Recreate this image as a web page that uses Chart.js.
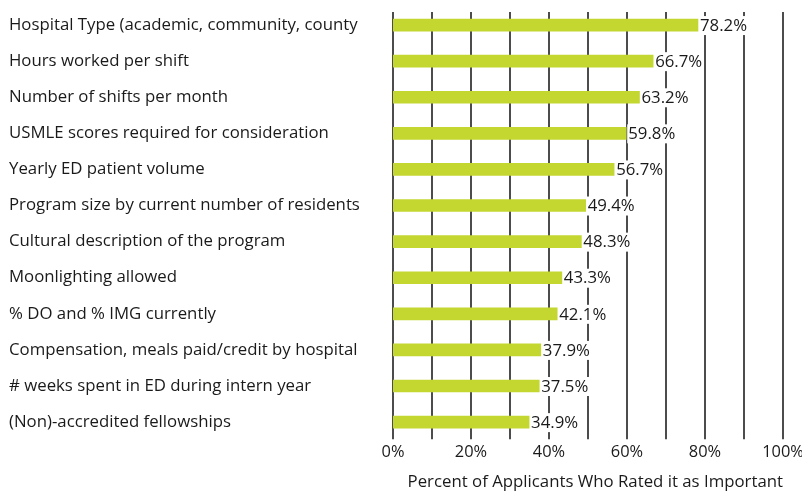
<!DOCTYPE html>
<html>
<head>
<meta charset="utf-8">
<script src="https://cdn.jsdelivr.net/npm/chart.js@4/dist/chart.umd.min.js"></script>
<style>
  html, body { margin: 0; padding: 0; background: #fff; }
  #wrap { width: 802px; height: 491px; }
</style>
</head>
<body>
<div id="wrap"><canvas id="chart"></canvas></div>
<script>
const categories = [
  "Hospital Type (academic, community, county",
  "Hours worked per shift",
  "Number of shifts per month",
  "USMLE scores required for consideration",
  "Yearly ED patient volume",
  "Program size by current number of residents",
  "Cultural description of the program",
  "Moonlighting allowed",
  "% DO and % IMG currently",
  "Compensation, meals paid/credit by hospital",
  "# weeks spent in ED during intern year",
  "(Non)-accredited fellowships"
];
const percentImportant = [78.2, 66.7, 63.2, 59.8, 56.7, 49.4, 48.3, 43.3, 42.1, 37.9, 37.5, 34.9];
const tickLabels = ["0%", "20%", "40%", "60%", "80%", "100%"];

const FONT = "'Open Sans', sans-serif";
const SIZE = 16.8;

// vertical grid lines, started a little below the top of the plot area
const xGrid = {
  id: "xGrid",
  beforeDatasetsDraw(chart) {
    const ctx = chart.ctx;
    const xs = chart.scales.x;
    const area = chart.chartArea;
    ctx.save();
    ctx.strokeStyle = "#111";
    ctx.lineWidth = 1.5;
    xs.ticks.forEach((t) => {
      const x = xs.getPixelForValue(t.value);
      ctx.beginPath();
      ctx.moveTo(x, area.top + 5);
      ctx.lineTo(x, area.bottom - 1);
      ctx.stroke();
    });
    ctx.restore();
  }
};

// value labels with a white box behind, so the grid lines stop at the text
const valueLabels = {
  id: "valueLabels",
  afterDatasetsDraw(chart) {
    const ctx = chart.ctx;
    const meta = chart.getDatasetMeta(0);
    ctx.save();
    ctx.font = SIZE + "px " + FONT;
    ctx.textBaseline = "middle";
    ctx.textAlign = "left";
    meta.data.forEach((bar, i) => {
      const txt = percentImportant[i].toFixed(1) + "%";
      const w = ctx.measureText(txt).width;
      const x = bar.x + 2;
      ctx.fillStyle = "#fff";
      ctx.fillRect(x - 1, bar.y - 9, w + 2, 19);
      ctx.fillStyle = "#1a1a1a";
      ctx.fillText(txt, x, bar.y + 1);
    });
    ctx.restore();
  }
};

new Chart(document.getElementById("chart"), {
  type: "bar",
  data: {
    labels: categories,
    datasets: [{
      data: percentImportant,
      backgroundColor: "#c3d730",
      barThickness: 12
    }]
  },
  options: {
    indexAxis: "y",
    responsive: true,
    maintainAspectRatio: false,
    animation: false,
    layout: { padding: { left: 9, right: 19, top: 7, bottom: 0 } },
    plugins: {
      legend: { display: false },
      tooltip: { enabled: false }
    },
    scales: {
      x: {
        min: 0,
        max: 100,
        border: { display: false },
        grid: { display: false, drawTicks: false },
        afterFit: (scale) => { scale.paddingLeft = 0; scale.paddingRight = 0; },
        ticks: {
          stepSize: 10,
          padding: 2,
          maxRotation: 0,
          autoSkip: false,
          color: "#1a1a1a",
          font: { family: FONT, size: SIZE - 0.4 },
          callback: (v) => (v % 20 === 0 ? tickLabels[v / 20] : "")
        },
        title: {
          display: true,
          text: "Percent of Applicants Who Rated it as Important",
          align: "end",
          color: "#1a1a1a",
          font: { family: FONT, size: SIZE },
          padding: { top: 8, bottom: -1 }
        }
      },
      y: {
        border: { display: false },
        grid: { display: false },
        afterFit: (scale) => {
          scale.width = 384;
          scale.paddingTop = 0;
          scale.paddingBottom = 0;
        },
        ticks: {
          autoSkip: false,
          crossAlign: "far",
          color: "#1a1a1a",
          font: { family: FONT, size: SIZE }
        }
      }
    }
  },
  plugins: [xGrid, valueLabels]
});
</script>
</body>
</html>
